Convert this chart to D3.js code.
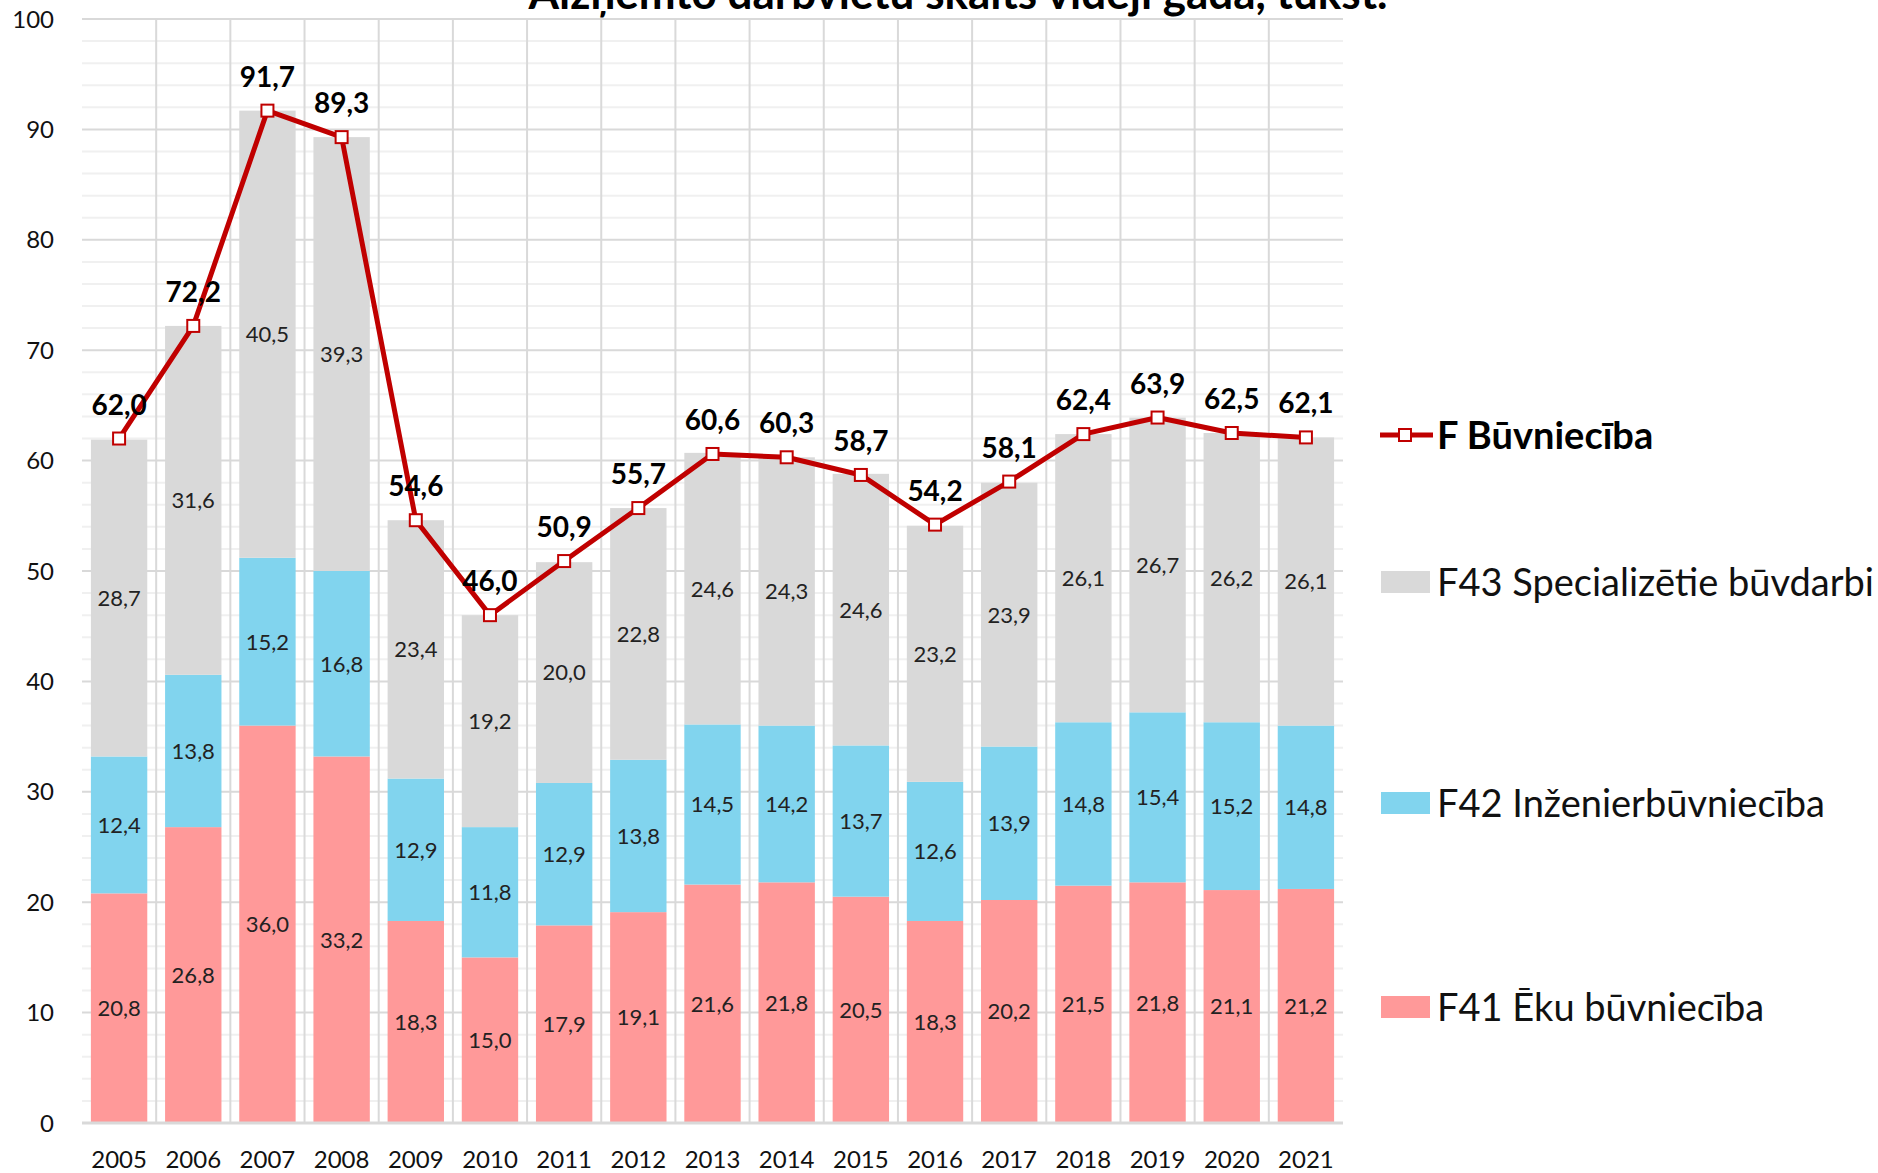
<!DOCTYPE html>
<html>
<head>
<meta charset="utf-8">
<script src="https://cdn.jsdelivr.net/npm/d3@7"></script>
<style>
  body { margin: 0; background: #fff; }
  svg text { font-family: Lato, "Open Sans", sans-serif; }
</style>
</head>
<body>
<div id="chart"></div>
<script>
// data (tūkst.)
var years = ["2005","2006","2007","2008","2009","2010","2011","2012","2013","2014","2015","2016","2017","2018","2019","2020","2021"];
var f41 = [20.8, 26.8, 36.0, 33.2, 18.3, 15.0, 17.9, 19.1, 21.6, 21.8, 20.5, 18.3, 20.2, 21.5, 21.8, 21.1, 21.2];
var f42 = [12.4, 13.8, 15.2, 16.8, 12.9, 11.8, 12.9, 13.8, 14.5, 14.2, 13.7, 12.6, 13.9, 14.8, 15.4, 15.2, 14.8];
var f43 = [28.7, 31.6, 40.5, 39.3, 23.4, 19.2, 20.0, 22.8, 24.6, 24.3, 24.6, 23.2, 23.9, 26.1, 26.7, 26.2, 26.1];
var total = [62.0, 72.2, 91.7, 89.3, 54.6, 46.0, 50.9, 55.7, 60.6, 60.3, 58.7, 54.2, 58.1, 62.4, 63.9, 62.5, 62.1];
var seriesNames = ["F41 Ēku būvniecība", "F42 Inženierbūvniecība", "F43 Specializētie būvdarbi"];
var lineName = "F Būvniecība";
var title = "Aizņemto darbvietu skaits vidēji gadā, tūkst.";

var colors = ["#ff9999", "#81d4ee", "#d9d9d9"];
var red = "#c00000";

var W = 1878, H = 1173;
var plot = {left: 82, right: 1343, top: 19, bottom: 1123};

var fmt = function(v) { return v.toFixed(1).replace(".", ","); };

var svg = d3.select("#chart").append("svg")
  .attr("width", W)
  .attr("height", H);

// scales
var x = d3.scaleBand().domain(years).range([plot.left, plot.right])
  .paddingInner(0.24).paddingOuter(0.12);
var xCell = d3.scaleBand().domain(years).range([plot.left, plot.right]).padding(0);
var y = d3.scaleLinear().domain([0, 100]).range([plot.bottom, plot.top]);

// minor + major horizontal grid
svg.append("g").selectAll("line")
  .data(d3.range(2, 100, 2).filter(function(v) { return v % 10 != 0; }))
  .enter().append("line")
    .attr("x1", plot.left).attr("x2", plot.right)
    .attr("y1", function(d) { return y(d); })
    .attr("y2", function(d) { return y(d); })
    .attr("stroke", "#f0f0f0")
    .attr("stroke-width", 2);

svg.append("g").selectAll("line")
  .data(d3.range(10, 101, 10))
  .enter().append("line")
    .attr("x1", plot.left).attr("x2", plot.right)
    .attr("y1", function(d) { return y(d); })
    .attr("y2", function(d) { return y(d); })
    .attr("stroke", "#d9d9d9")
    .attr("stroke-width", 2);

// vertical grid at category edges
svg.append("g").selectAll("line")
  .data(years.slice(1))
  .enter().append("line")
    .attr("x1", function(d) { return xCell(d); })
    .attr("x2", function(d) { return xCell(d); })
    .attr("y1", plot.top).attr("y2", plot.bottom)
    .attr("stroke", "#d9d9d9")
    .attr("stroke-width", 2);

// stacked bars
var rows = years.map(function(yr, i) {
  return { year: yr, f41: f41[i], f42: f42[i], f43: f43[i] };
});
var stack = d3.stack().keys(["f41", "f42", "f43"])(rows);

var layers = svg.append("g").selectAll("g")
  .data(stack)
  .enter().append("g")
    .attr("fill", function(d, i) { return colors[i]; });

layers.selectAll("rect")
  .data(function(d) { return d; })
  .enter().append("rect")
    .attr("x", function(d) { return x(d.data.year); })
    .attr("width", x.bandwidth())
    .attr("y", function(d) { return y(d[1]); })
    .attr("height", function(d) { return y(d[0]) - y(d[1]); });

// segment labels
var segLabels = svg.append("g")
  .attr("font-size", "22px")
  .attr("fill", "#222")
  .attr("text-anchor", "middle");

stack.forEach(function(layer) {
  segLabels.selectAll(null)
    .data(layer)
    .enter().append("text")
      .attr("x", function(d) { return x(d.data.year) + x.bandwidth() / 2; })
      .attr("y", function(d) { return y((d[0] + d[1]) / 2); })
      .attr("dy", "0.36em")
      .text(function(d) { return fmt(d[1] - d[0]); });
});

// x axis baseline
svg.append("line")
  .attr("x1", plot.left).attr("x2", plot.right)
  .attr("y1", y(0)).attr("y2", y(0))
  .attr("stroke", "#d9d9d9")
  .attr("stroke-width", 3);

// axis labels
svg.append("g").selectAll("text")
  .data(d3.range(0, 101, 10))
  .enter().append("text")
    .attr("x", 54)
    .attr("y", function(d) { return y(d); })
    .attr("dy", "0.36em")
    .attr("text-anchor", "end")
    .attr("font-size", "24px")
    .attr("fill", "#111")
    .text(function(d) { return d; });

svg.append("g").selectAll("text")
  .data(years)
  .enter().append("text")
    .attr("x", function(d) { return xCell(d) + xCell.bandwidth() / 2; })
    .attr("y", 1159)
    .attr("dy", "0.36em")
    .attr("text-anchor", "middle")
    .attr("font-size", "24px")
    .attr("fill", "#111")
    .text(function(d) { return d; });

// total line
var cx = function(i) { return xCell(years[i]) + xCell.bandwidth() / 2; };
var line = d3.line()
  .x(function(d, i) { return cx(i); })
  .y(function(d) { return y(d); });

svg.append("path")
  .datum(total)
  .attr("d", line)
  .attr("fill", "none")
  .attr("stroke", red)
  .attr("stroke-width", 5)
  .attr("stroke-linejoin", "round");

svg.append("g").selectAll("rect")
  .data(total)
  .enter().append("rect")
    .attr("x", function(d, i) { return cx(i) - 6; })
    .attr("y", function(d) { return y(d) - 6; })
    .attr("width", 12).attr("height", 12)
    .attr("fill", "#fff")
    .attr("stroke", red)
    .attr("stroke-width", 2);

svg.append("g").selectAll("text")
  .data(total)
  .enter().append("text")
    .attr("x", function(d, i) { return cx(i); })
    .attr("y", function(d) { return y(d) - 34; })
    .attr("dy", "0.36em")
    .attr("text-anchor", "middle")
    .attr("font-size", "28px")
    .attr("font-weight", "bold")
    .attr("fill", "#000")
    .text(function(d) { return fmt(d); });

// title (cut at top edge)
svg.append("text")
  .attr("x", 958)
  .attr("y", 9)
  .attr("text-anchor", "middle")
  .attr("font-size", "44px")
  .attr("font-weight", "bold")
  .text(title);

// legend
var lg = svg.append("g");
lg.append("line")
  .attr("x1", 1380).attr("x2", 1433)
  .attr("y1", 435).attr("y2", 435)
  .attr("stroke", red).attr("stroke-width", 5);
lg.append("rect")
  .attr("x", 1399).attr("y", 429)
  .attr("width", 12).attr("height", 12)
  .attr("fill", "#fff").attr("stroke", red).attr("stroke-width", 2);
lg.append("text")
  .attr("x", 1437).attr("y", 435)
  .attr("dy", "0.36em")
  .attr("font-size", "38px").attr("font-weight", "bold")
  .text(lineName);

var legRows = [
  { name: seriesNames[2], color: colors[2], y: 582 },
  { name: seriesNames[1], color: colors[1], y: 803 },
  { name: seriesNames[0], color: colors[0], y: 1007 }
];
legRows.forEach(function(r) {
  lg.append("rect")
    .attr("x", 1381).attr("y", r.y - 11)
    .attr("width", 49).attr("height", 22)
    .attr("fill", r.color);
  lg.append("text")
    .attr("x", 1437).attr("y", r.y)
    .attr("dy", "0.36em")
    .attr("font-size", "38px")
    .attr("fill", "#111")
    .text(r.name);
});
</script>
</body>
</html>
